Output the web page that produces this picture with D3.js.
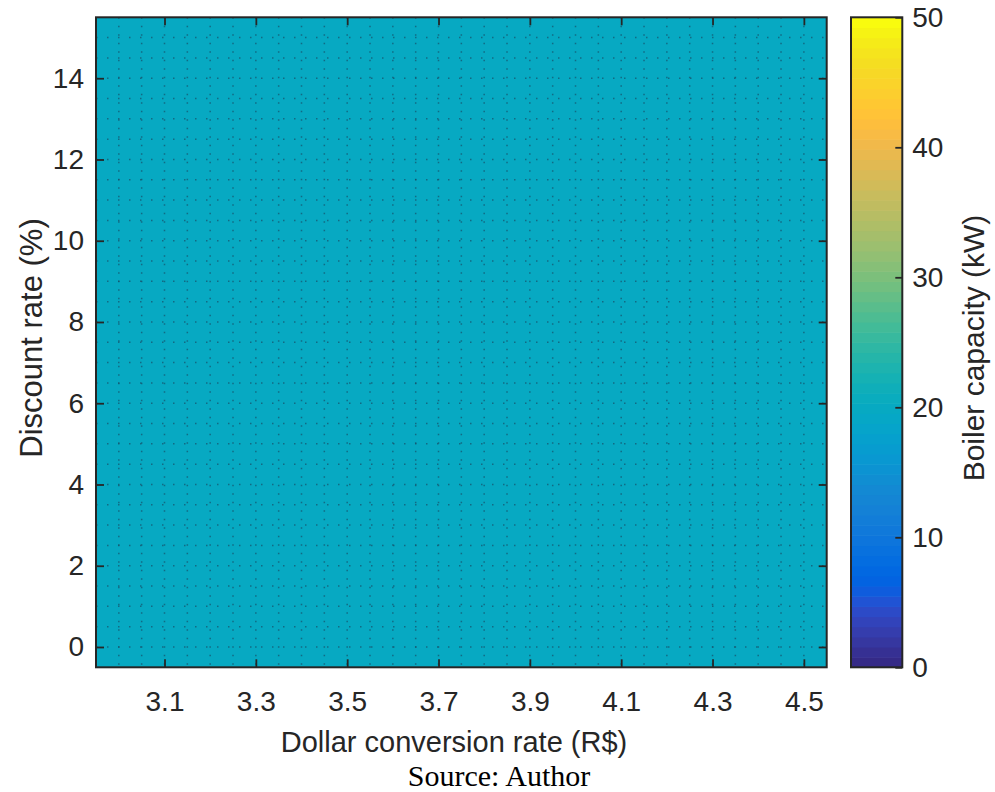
<!DOCTYPE html>
<html>
<head>
<meta charset="utf-8">
<script src="https://cdn.jsdelivr.net/npm/d3@7"></script>
<style>
  html, body { margin: 0; padding: 0; background: #fff; }
  svg { display: block; }
  text { font-family: "Liberation Sans", Arial, Helvetica, sans-serif; fill: #262626; }
</style>
</head>
<body>
<svg id="chart" width="995" height="792"></svg>
<script>
// Grid of sensitivity inputs
const dollarRates = [3.0, 3.1, 3.2, 3.3, 3.4, 3.5, 3.6, 3.7, 3.8, 3.9, 4.0, 4.1, 4.2, 4.3, 4.4, 4.5];
const discountRates = [0, 1, 2, 3, 4, 5, 6, 7, 8, 9, 10, 11, 12, 13, 14, 15];

// Optimal boiler capacity (kW), one row per discount rate
const boilerCapacity = [
  [20, 20, 20, 20, 20, 20, 20, 20, 20, 20, 20, 20, 20, 20, 20, 20],
  [20, 20, 20, 20, 20, 20, 20, 20, 20, 20, 20, 20, 20, 20, 20, 20],
  [20, 20, 20, 20, 20, 20, 20, 20, 20, 20, 20, 20, 20, 20, 20, 20],
  [20, 20, 20, 20, 20, 20, 20, 20, 20, 20, 20, 20, 20, 20, 20, 20],
  [20, 20, 20, 20, 20, 20, 20, 20, 20, 20, 20, 20, 20, 20, 20, 20],
  [20, 20, 20, 20, 20, 20, 20, 20, 20, 20, 20, 20, 20, 20, 20, 20],
  [20, 20, 20, 20, 20, 20, 20, 20, 20, 20, 20, 20, 20, 20, 20, 20],
  [20, 20, 20, 20, 20, 20, 20, 20, 20, 20, 20, 20, 20, 20, 20, 20],
  [20, 20, 20, 20, 20, 20, 20, 20, 20, 20, 20, 20, 20, 20, 20, 20],
  [20, 20, 20, 20, 20, 20, 20, 20, 20, 20, 20, 20, 20, 20, 20, 20],
  [20, 20, 20, 20, 20, 20, 20, 20, 20, 20, 20, 20, 20, 20, 20, 20],
  [20, 20, 20, 20, 20, 20, 20, 20, 20, 20, 20, 20, 20, 20, 20, 20],
  [20, 20, 20, 20, 20, 20, 20, 20, 20, 20, 20, 20, 20, 20, 20, 20],
  [20, 20, 20, 20, 20, 20, 20, 20, 20, 20, 20, 20, 20, 20, 20, 20],
  [20, 20, 20, 20, 20, 20, 20, 20, 20, 20, 20, 20, 20, 20, 20, 20],
  [20, 20, 20, 20, 20, 20, 20, 20, 20, 20, 20, 20, 20, 20, 20, 20]
];

// Axis ticks
const xTicks = [3.1, 3.3, 3.5, 3.7, 3.9, 4.1, 4.3, 4.5];
const yTicks = [0, 2, 4, 6, 8, 10, 12, 14];
const colorTicks = [0, 10, 20, 30, 40, 50];
const colorDomain = [0, 50];

// Parula colormap, 64 entries
const parula = [[0.2081,0.1663,0.5292],[0.2116,0.1898,0.5777],[0.2123,0.2138,0.6270],[0.2081,0.2386,0.6771],[0.1959,0.2645,0.7279],[0.1707,0.2919,0.7792],[0.1253,0.3242,0.8303],[0.0591,0.3598,0.8683],[0.0117,0.3875,0.8820],[0.0060,0.4086,0.8828],[0.0165,0.4266,0.8786],[0.0329,0.4430,0.8720],[0.0498,0.4586,0.8641],[0.0629,0.4737,0.8554],[0.0723,0.4887,0.8467],[0.0779,0.5040,0.8384],[0.0793,0.5200,0.8312],[0.0749,0.5375,0.8263],[0.0641,0.5570,0.8240],[0.0488,0.5772,0.8228],[0.0343,0.5966,0.8199],[0.0265,0.6137,0.8135],[0.0239,0.6287,0.8038],[0.0231,0.6418,0.7913],[0.0228,0.6535,0.7768],[0.0267,0.6642,0.7607],[0.0384,0.6743,0.7436],[0.0590,0.6838,0.7254],[0.0843,0.6928,0.7062],[0.1133,0.7015,0.6859],[0.1453,0.7098,0.6646],[0.1801,0.7177,0.6424],[0.2178,0.7250,0.6193],[0.2586,0.7317,0.5954],[0.3022,0.7376,0.5712],[0.3482,0.7424,0.5473],[0.3953,0.7459,0.5244],[0.4420,0.7481,0.5033],[0.4871,0.7491,0.4840],[0.5300,0.7491,0.4661],[0.5709,0.7485,0.4494],[0.6099,0.7473,0.4337],[0.6473,0.7456,0.4188],[0.6834,0.7435,0.4044],[0.7184,0.7411,0.3905],[0.7525,0.7384,0.3768],[0.7858,0.7356,0.3633],[0.8185,0.7327,0.3498],[0.8507,0.7299,0.3360],[0.8824,0.7274,0.3217],[0.9139,0.7258,0.3063],[0.9450,0.7261,0.2886],[0.9739,0.7314,0.2666],[0.9938,0.7455,0.2403],[0.9990,0.7653,0.2164],[0.9955,0.7861,0.1967],[0.9880,0.8066,0.1794],[0.9789,0.8271,0.1633],[0.9697,0.8481,0.1475],[0.9626,0.8705,0.1309],[0.9589,0.8949,0.1132],[0.9598,0.9218,0.0948],[0.9661,0.9514,0.0755],[0.9763,0.9831,0.0538]]
  .map(([r, g, b]) => d3.rgb(Math.round(r * 255), Math.round(g * 255), Math.round(b * 255)).formatHex());

// Quantized lookup into the colormap, like a scaled indexed image
const colorIndex = d3.scaleQuantize().domain(colorDomain).range(d3.range(parula.length));
const colorOf = v => parula[colorIndex(v)];

const svg = d3.select("#chart");
const axisColor = "#262626";
const tickFont = "28px";
const labelFont = "30px";

const plot = { left: 96, right: 826.7, top: 17.3, bottom: 667.3 };
const halfX = (dollarRates[1] - dollarRates[0]) / 2;
const halfY = (discountRates[1] - discountRates[0]) / 2;

const x = d3.scaleLinear()
  .domain([d3.min(dollarRates) - halfX, d3.max(dollarRates) + halfX])
  .range([plot.left, plot.right]);
const y = d3.scaleLinear()
  .domain([d3.min(discountRates) - halfY, d3.max(discountRates) + halfY])
  .range([plot.bottom, plot.top]);

// Heat map cells
const cells = [];
discountRates.forEach((dr, i) => {
  dollarRates.forEach((xr, j) => cells.push({ xr, dr, v: boilerCapacity[i][j] }));
});
svg.append("g").selectAll("rect").data(cells).join("rect")
  .attr("x", d => x(d.xr - halfX))
  .attr("y", d => y(d.dr + halfY))
  .attr("width", d => x(d.xr + halfX) - x(d.xr - halfX) + 0.5)
  .attr("height", d => y(d.dr - halfY) - y(d.dr + halfY) + 0.5)
  .attr("fill", d => colorOf(d.v))
  .attr("shape-rendering", "crispEdges");

// Dotted mesh lines at cell centres and cell boundaries
const xLines = [];
dollarRates.forEach((xr, j) => { xLines.push(xr); if (j < dollarRates.length - 1) xLines.push(xr + halfX); });
const yLines = [];
discountRates.forEach((dr, i) => { yLines.push(dr); if (i < discountRates.length - 1) yLines.push(dr + halfY); });

const mesh = svg.append("g").attr("stroke", "#17506a").attr("stroke-opacity", 0.7).attr("stroke-width", 1.5);
mesh.selectAll("line.v").data(xLines).join("line").attr("class", "v")
  .attr("x1", d => x(d)).attr("x2", d => x(d))
  .attr("y1", plot.top).attr("y2", plot.bottom)
  .attr("stroke-dasharray", "1.5,7");
mesh.selectAll("line.h").data(yLines).join("line").attr("class", "h")
  .attr("y1", d => y(d)).attr("y2", d => y(d))
  .attr("x1", plot.left).attr("x2", plot.right)
  .attr("stroke-dasharray", "1.5,9.5");

// Axes with inward ticks, mirrored on the opposite sides
const tickLen = 8;
const fmtX = d3.format(".1f");
const gx = svg.append("g").attr("transform", `translate(0,${plot.bottom})`)
  .call(d3.axisBottom(x).tickValues(xTicks).tickFormat(fmtX).tickSizeInner(-tickLen).tickSizeOuter(0).tickPadding(30));
const gxTop = svg.append("g").attr("transform", `translate(0,${plot.top})`)
  .call(d3.axisTop(x).tickValues(xTicks).tickFormat("").tickSizeInner(-tickLen).tickSizeOuter(0));
const gy = svg.append("g").attr("transform", `translate(${plot.left},0)`)
  .call(d3.axisLeft(y).tickValues(yTicks).tickFormat(d3.format("d")).tickSizeInner(-tickLen).tickSizeOuter(0).tickPadding(12));
const gyRight = svg.append("g").attr("transform", `translate(${plot.right},0)`)
  .call(d3.axisRight(y).tickValues(yTicks).tickFormat("").tickSizeInner(-tickLen).tickSizeOuter(0));

[gx, gxTop, gy, gyRight].forEach(g => {
  g.select(".domain").remove();
  g.selectAll(".tick line").attr("stroke", axisColor).attr("stroke-width", 1.8);
  g.selectAll(".tick text").attr("fill", axisColor).style("font-size", tickFont)
    .style("font-family", '"Liberation Sans", Arial, sans-serif');
});
gx.selectAll(".tick text").attr("dy", "0.5em");

svg.append("rect")
  .attr("x", plot.left).attr("y", plot.top)
  .attr("width", plot.right - plot.left).attr("height", plot.bottom - plot.top)
  .attr("fill", "none").attr("stroke", axisColor).attr("stroke-width", 2);

// Axis labels
svg.append("text")
  .attr("x", 454).attr("y", 752)
  .attr("text-anchor", "middle").style("font-size", "29px")
  .text("Dollar conversion rate (R$)");
svg.append("text")
  .attr("transform", `translate(42,${338}) rotate(-90)`)
  .attr("text-anchor", "middle").style("font-size", "31px")
  .text("Discount rate (%)");

// Colour bar
const cb = { left: 851, right: 902.3, top: 17.3, bottom: 667.3 };
const cy = d3.scaleLinear().domain(colorDomain).range([cb.bottom, cb.top]);
const step = (colorDomain[1] - colorDomain[0]) / parula.length;
svg.append("g").selectAll("rect").data(parula).join("rect")
  .attr("x", cb.left).attr("width", cb.right - cb.left)
  .attr("y", (d, i) => cy(colorDomain[0] + (i + 1) * step))
  .attr("height", (d, i) => cy(colorDomain[0] + i * step) - cy(colorDomain[0] + (i + 1) * step) + 0.6)
  .attr("fill", d => d);

const gc = svg.append("g").attr("transform", `translate(${cb.right},0)`)
  .call(d3.axisRight(cy).tickValues(colorTicks).tickFormat(d3.format("d")).tickSizeInner(-7).tickSizeOuter(0).tickPadding(10));
gc.select(".domain").remove();
gc.selectAll(".tick line").attr("stroke", axisColor).attr("stroke-width", 1.8);
gc.selectAll(".tick text").attr("fill", axisColor).style("font-size", tickFont)
  .style("font-family", '"Liberation Sans", Arial, sans-serif');

svg.append("rect")
  .attr("x", cb.left).attr("y", cb.top)
  .attr("width", cb.right - cb.left).attr("height", cb.bottom - cb.top)
  .attr("fill", "none").attr("stroke", axisColor).attr("stroke-width", 2);

svg.append("text")
  .attr("transform", `translate(984,${348}) rotate(-90)`)
  .attr("text-anchor", "middle").style("font-size", labelFont)
  .text("Boiler capacity (kW)");

// Source note
svg.append("text")
  .attr("x", 499).attr("y", 786)
  .attr("text-anchor", "middle")
  .style("font-family", '"Liberation Serif", "Times New Roman", serif')
  .style("font-size", "30px").style("fill", "#000")
  .text("Source: Author");
</script>
</body>
</html>
